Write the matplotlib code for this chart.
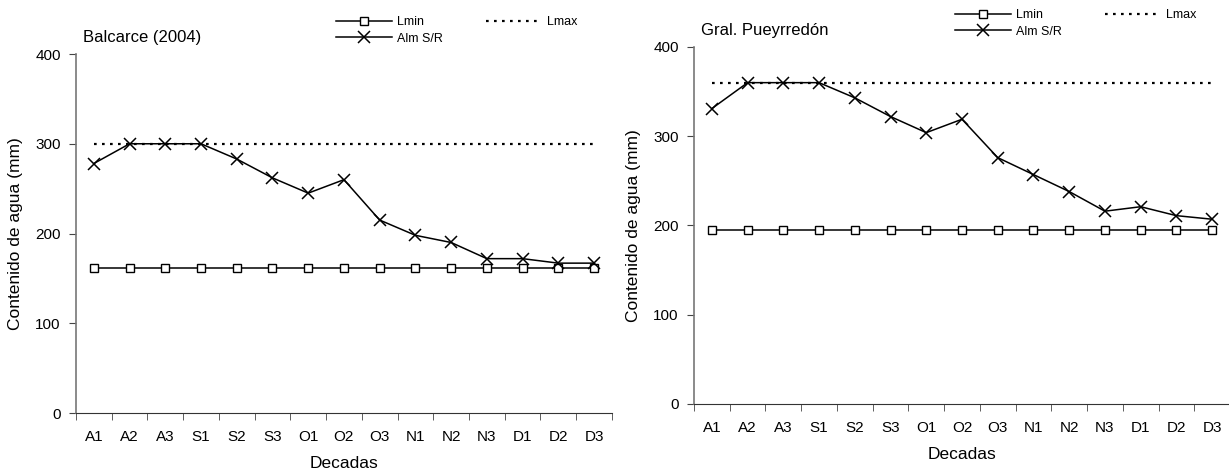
import numpy as np
import matplotlib
matplotlib.use('Agg')
import matplotlib.pyplot as plt

plt.rcParams['font.family'] = ['Liberation Sans', 'DejaVu Sans']

# decadas (eje x)
decadas = ['A1', 'A2', 'A3', 'S1', 'S2', 'S3', 'O1', 'O2', 'O3',
           'N1', 'N2', 'N3', 'D1', 'D2', 'D3']

# Balcarce (2004)
balc_lmin = [162] * 15
balc_lmax = [300] * 15
balc_alm = [278, 300, 300, 300, 283, 262, 245, 260, 215, 198, 190, 172, 172, 167, 167]

# Gral. Pueyrredon
gp_lmin = [195] * 15
gp_lmax = [360] * 15
gp_alm = [331, 360, 360, 360, 343, 322, 304, 319, 276, 257, 238, 216, 221, 211, 207]

fig = plt.figure(figsize=(12.29, 4.71), dpi=100)
ax1 = fig.add_axes([0.0618, 0.1231, 0.4361, 0.7622])
ax2 = fig.add_axes([0.5647, 0.1423, 0.4361, 0.758])

def draw(ax, titulo, lmin, lmax, alm, leg_x):
    x = np.arange(len(decadas))
    l1, = ax.plot(x, lmin, color='black', lw=1.1, marker='s', ms=6,
                  mfc='white', mec='black', mew=1.0, label='Lmin')
    l3, = ax.plot(x, lmax, color='black', lw=1.6, ls=(0, (1.2, 2.4)), label='Lmax')
    l2, = ax.plot(x, alm, color='black', lw=1.1, marker='x', ms=8, mew=1.1,
                  label='Alm S/R')
    ax.set_xlim(-0.5, len(decadas) - 0.5)
    ax.set_ylim(0, 400)
    ax.set_yticks([0, 100, 200, 300, 400])
    ax.set_xticks(x)
    ax.set_xticklabels(decadas)
    ax.set_xticks(np.arange(-0.5, len(decadas), 1), minor=True)
    ax.tick_params(axis='x', which='major', length=0, pad=12, labelsize=11)
    ax.tick_params(axis='x', which='minor', length=5, color='#444444')
    ax.tick_params(axis='y', length=5, pad=6, color='#444444', labelsize=11)
    for s in ['top', 'right']:
        ax.spines[s].set_visible(False)
    ax.spines['left'].set_color('#777777')
    ax.spines['left'].set_linewidth(1.2)
    ax.spines['bottom'].set_color('#333333')
    ax.set_xlabel('Decadas', fontsize=12.5, labelpad=9)
    ax.set_ylabel('Contenido de agua (mm)', fontsize=12.5, labelpad=9)
    ax.text(0.013, 1.046, titulo, transform=ax.transAxes, fontsize=12, va='center')
    ax.legend([l1, l2, l3], ['Lmin', 'Alm S/R', 'Lmax'], ncol=2, frameon=False,
              fontsize=9, loc='center left', bbox_to_anchor=(leg_x, 1.066),
              handlelength=4.5, handletextpad=0.4, columnspacing=3.4,
              labelspacing=0.35, borderpad=0, borderaxespad=0)

draw(ax1, 'Balcarce (2004)', balc_lmin, balc_lmax, balc_alm, 0.485)
draw(ax2, 'Gral. Pueyrredón', gp_lmin, gp_lmax, gp_alm, 0.487)

plt.savefig('out.png', dpi=100)
plt.close()
